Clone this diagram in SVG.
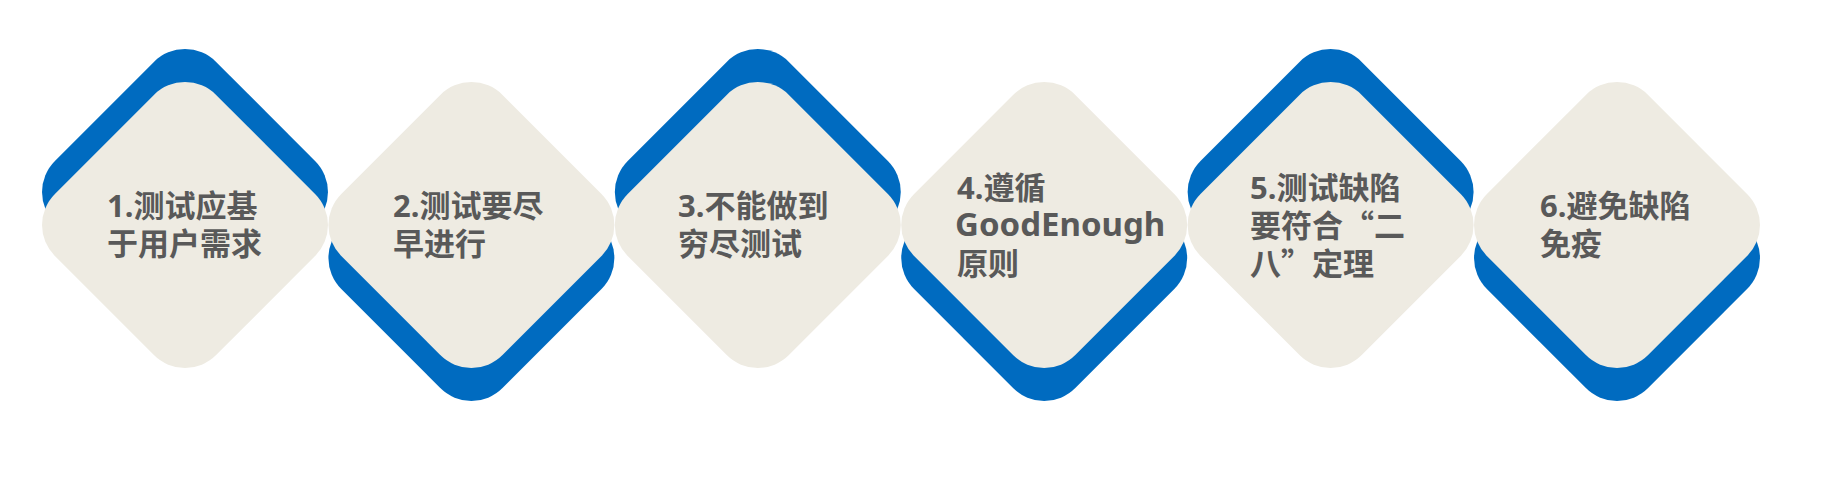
<svg xmlns="http://www.w3.org/2000/svg" xmlns:xlink="http://www.w3.org/1999/xlink" width="1840" height="489" viewBox="0 0 1840 489">
  <style>
    .blue { fill: #006BC0; }
    .tan { fill: #EEEBE2; }
    .lbl { font-family: "Noto Sans", "Noto Sans CJK SC", sans-serif; font-weight: 700; font-size: 31px; fill: #595959; }
    .cjk { font-family: "Noto Sans CJK SC", sans-serif; }
    .lat { font-size: 33px; }
  </style>
  <defs>
    <path id="dia" d="M -31.11,-130.09 A 44 44 0 0 1 31.11,-130.09 L 130.09,-31.11 A 44 44 0 0 1 130.09,31.11 L 31.11,130.09 A 44 44 0 0 1 -31.11,130.09 L -130.09,31.11 A 44 44 0 0 1 -130.09,-31.11 Z"/>
  </defs>
  <rect width="1840" height="489" fill="#FFFFFF"/>
  <g id="connectors"/>
  <g id="node1">
    <use href="#dia" xlink:href="#dia" class="blue" x="185" y="192"/>
    <use href="#dia" xlink:href="#dia" class="tan" x="185" y="225"/>
    <text class="lbl" x="107" y="217">1.测试应基<tspan x="107" y="255">于用户需求</tspan></text>
  </g>
  <g id="node2">
    <use href="#dia" xlink:href="#dia" class="blue" x="471.4" y="258"/>
    <use href="#dia" xlink:href="#dia" class="tan" x="471.4" y="225"/>
    <text class="lbl" x="393" y="217">2.测试要尽<tspan x="393" y="255">早进行</tspan></text>
  </g>
  <g id="node3">
    <use href="#dia" xlink:href="#dia" class="blue" x="757.8" y="192"/>
    <use href="#dia" xlink:href="#dia" class="tan" x="757.8" y="225"/>
    <text class="lbl" x="678" y="217">3.不能做到<tspan x="678" y="255">穷尽测试</tspan></text>
  </g>
  <g id="node4">
    <use href="#dia" xlink:href="#dia" class="blue" x="1044.2" y="258"/>
    <use href="#dia" xlink:href="#dia" class="tan" x="1044.2" y="225"/>
    <text class="lbl" x="957" y="199">4.遵循<tspan class="lat" x="955" y="236">GoodEnough</tspan><tspan x="957" y="275">原则</tspan></text>
  </g>
  <g id="node5">
    <use href="#dia" xlink:href="#dia" class="blue" x="1330.6" y="192"/>
    <use href="#dia" xlink:href="#dia" class="tan" x="1330.6" y="225"/>
    <text class="lbl" x="1250" y="199">5.测试缺陷<tspan x="1250" y="237">要符合<tspan class="cjk">“</tspan>二</tspan><tspan x="1250" y="275">八<tspan class="cjk">”</tspan>定理</tspan></text>
  </g>
  <g id="node6">
    <use href="#dia" xlink:href="#dia" class="blue" x="1617" y="258"/>
    <use href="#dia" xlink:href="#dia" class="tan" x="1617" y="225"/>
    <text class="lbl" x="1540" y="217">6.避免缺陷<tspan x="1540" y="255">免疫</tspan></text>
  </g>
</svg>
